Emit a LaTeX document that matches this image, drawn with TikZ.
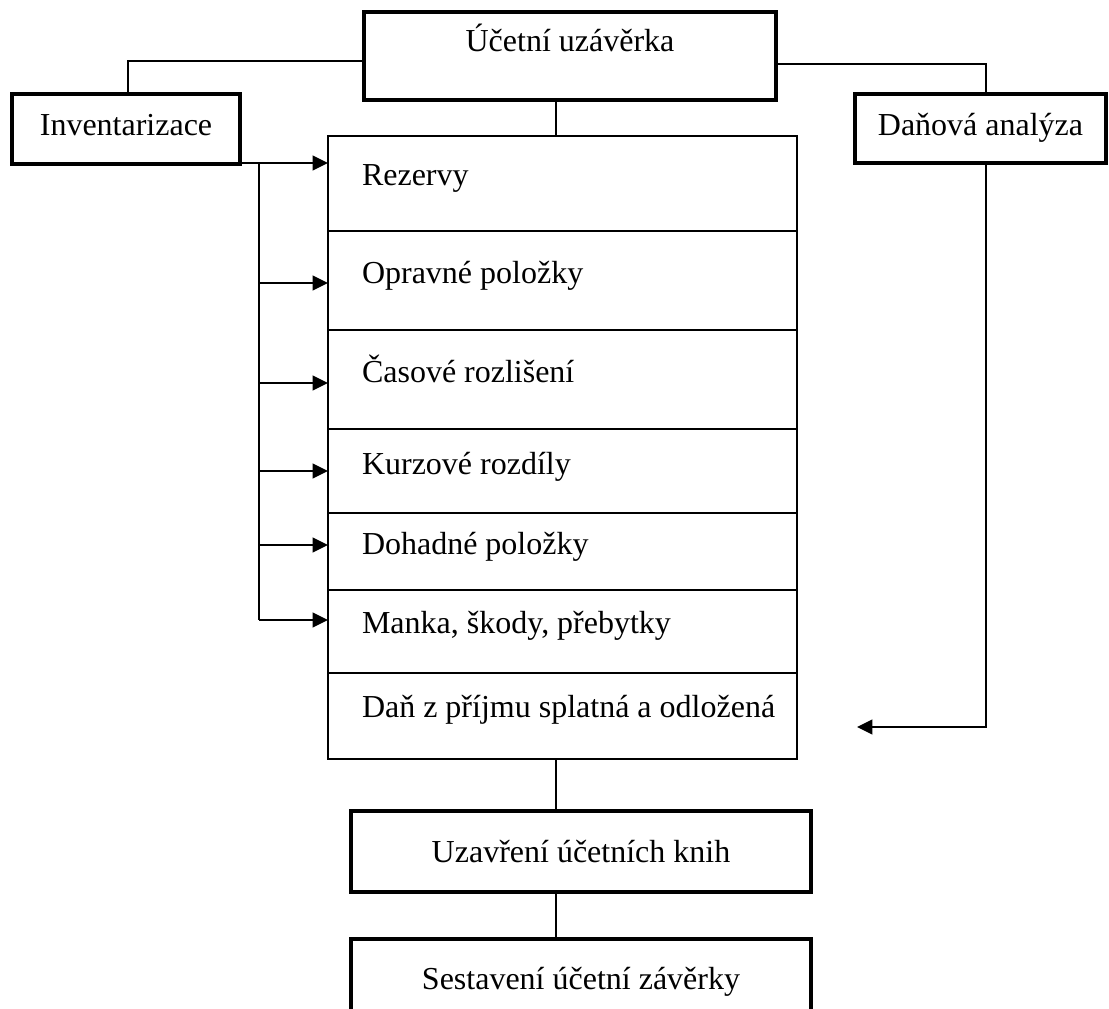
\documentclass[tikz,border=0pt]{standalone}
\usepackage{fontspec}
\setmainfont{Liberation Serif}
\usetikzlibrary{arrows.meta}

\begin{document}
\begin{tikzpicture}[x=0.75pt,y=-0.75pt,font=\fontsize{24}{28}\selectfont]
% Styly: silné rámečky, buňky, šipky a spojnice
\tikzstyle{ramecek}=[draw,line width=3.3pt,inner sep=0pt,anchor=north]
\tikzstyle{bunka}=[draw,line width=1.6pt,inner sep=0pt,outer sep=0pt,anchor=north west,
                   text width=351.75pt,align=flush left,execute at begin node={\hspace*{25.5pt}}]
\tikzstyle{sipka}=[-{Triangle[length=11.5pt,width=11pt]},line width=1.6pt]
\tikzstyle{spoj}=[line width=1pt]

\useasboundingbox (0,0) rectangle (1109,1009);
\clip (0,0) rectangle (1109,1009);

% Hlavní rámečky
\node[ramecek,minimum width=308.7pt,text height=29.85pt,text depth=35.85pt] (uz) at (570,10) {Účetní uzávěrka};
\node[ramecek,minimum width=170.7pt,text height=31.35pt,text depth=20.85pt] (inv) at (126,92) {Inventarizace};
\node[ramecek,minimum width=187.95pt,text height=31.35pt,text depth=20.1pt] (dan) at (980.5,92) {Daňová analýza};
\node[ramecek,minimum width=344.7pt,text height=38.1pt,text depth=22.35pt] (uzk) at (581,809) {Uzavření účetních knih};
\node[ramecek,minimum width=344.7pt,text height=37.35pt,text depth=37.5pt] (ses) at (581,937) {Sestavení účetní závěrky};

% Sloupec buněk
\foreach \n/\yy/\hl/\dl/\txt in {1/136/37.5/33.75/Rezervy, 2/231/39/35.25/Opravné položky,
                                 3/330/39/35.25/Časové rozlišení, 4/429/33.75/29.25/Kurzové rozdíly,
                                 5/513/30.75/27/Dohadné položky, 6/590/32.25/30/{Manka, škody, přebytky},
                                 7/673/33/31.5/Daň z příjmu splatná a odložená}{
    \node[bunka,text height=\hl pt,text depth=\dl pt] (b\n) at (328,\yy) {\txt};
}

% Šipky z inventarizace
\foreach \n/\ay in {1/163, 2/283, 3/383, 4/471, 5/545, 6/620}{
    \coordinate (k\n) at (259,\ay);
    \draw[sipka] (k\n) -- (k\n -| b\n.west);
}
\draw[line width=1.6pt] (k1 -| inv.east) -- (k1) -- (k6);

% Spojnice
\coordinate (osa) at (556,0);
\coordinate (levo) at (128,0);
\coordinate (pravo) at (986,0);
\coordinate (cil) at (857,727);
\draw[spoj] ([yshift=-3.75pt]uz.west) -| (inv.north -| levo);
\draw[spoj] ([yshift=-6pt]uz.east) -| (dan.north -| pravo);
\draw[spoj] (uz.south -| osa) -- (b1.north -| osa);
\draw[spoj] (b7.south -| osa) -- (uzk.north -| osa);
\draw[spoj] (uzk.south -| osa) -- (ses.north -| osa);
\draw[sipka] (dan.south -| pravo) |- (cil);
\end{tikzpicture}
\end{document}
